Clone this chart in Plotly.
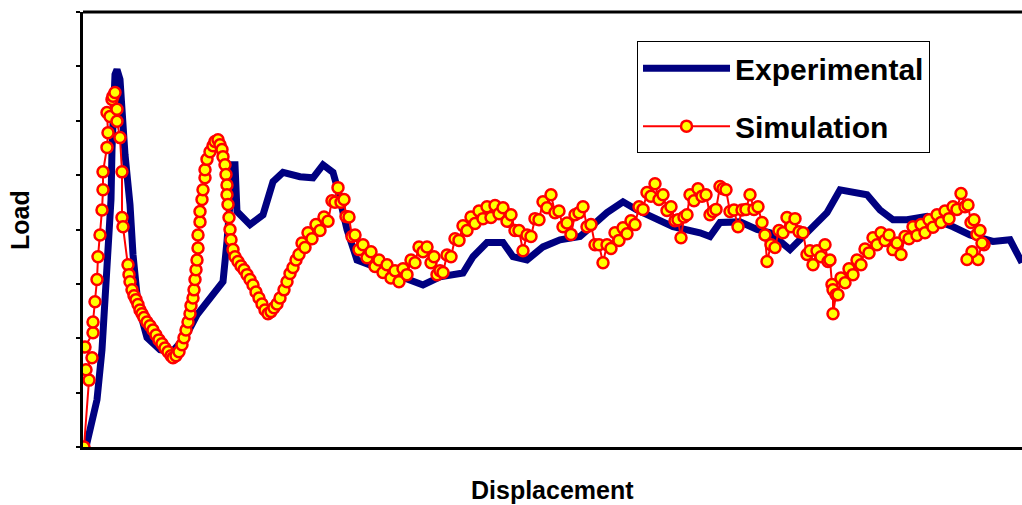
import plotly.graph_objects as go

# Experimental curve (displacement, load)
exp_disp = [0.15, 0.45, 0.7, 0.95, 1.1, 1.25, 1.4, 1.45, 1.5, 1.6, 1.7, 1.85, 2.1, 2.35, 2.5,
            2.75, 3.2, 3.85, 4.45, 5.1, 5.7, 6.5, 7.0, 7.2, 7.35, 7.5, 7.6, 7.7, 8.35, 9.0,
            9.5, 10.0, 10.85, 11.5, 12.0, 12.5, 12.7, 13.2, 13.7, 15.0, 16.35, 17.0, 17.85,
            19.0, 19.5, 20.2, 21.0, 21.5, 22.2, 23.0, 23.85, 24.85, 26.2, 27.0, 27.7, 28.7,
            29.5, 30.85, 31.35, 31.85, 32.85, 33.7, 34.35, 35.35, 36.35, 37.2, 37.85, 38.7,
            39.2, 39.85, 40.5, 41.2, 42.2, 43.5, 44.35, 45.5, 46.35, 46.95]
exp_load = [0.0, 0.50, 0.87, 1.79, 2.71, 3.63, 4.55, 5.47, 6.39, 6.85, 6.94, 6.76, 5.38, 4.46, 3.54,
            2.62, 2.01, 1.79, 1.75, 2.01, 2.43, 2.80, 3.04, 3.78, 4.46, 5.19, 5.19, 4.33, 4.09, 4.27,
            4.88, 5.05, 4.97, 4.95, 5.19, 5.05, 4.79, 4.00, 3.44, 3.26, 3.08, 2.98, 3.13,
            3.20, 3.50, 3.76, 3.76, 3.50, 3.44, 3.68, 3.81, 3.87, 4.31, 4.51, 4.36, 4.18,
            4.05, 3.94, 3.87, 4.13, 4.14, 4.00, 3.94, 3.63, 4.00, 4.31, 4.73, 4.68,
            4.64, 4.36, 4.18, 4.18, 4.24, 4.05, 3.90, 3.78, 3.81, 3.39]

# Simulation curve (displacement, load)
sim_disp = [
    0.05, 0.3, 0.15, 0.45, 0.1, 0.5, 0.5, 0.6, 0.7, 0.75, 0.85, 0.95, 1.0, 1.0, 1.2, 1.25,
    1.2, 1.35, 1.45, 1.5, 1.6, 1.7, 1.7, 1.85, 1.95, 1.95, 2.0, 2.25, 2.3, 2.35, 2.45, 2.55,
    2.65, 2.75, 2.85, 2.95, 3.05, 3.2, 3.35, 3.5, 3.65, 3.8, 3.95, 4.1, 4.25, 4.4, 4.5,
    4.65, 4.8, 4.95, 5.05, 5.15, 5.25, 5.35, 5.4, 5.5, 5.55, 5.6, 5.65, 5.7, 5.75, 5.75,
    5.85, 5.85, 5.95, 6.0, 6.1, 6.1, 6.2, 6.35, 6.5, 6.6, 6.75, 6.85, 6.95, 7.0, 7.1,
    7.15, 7.2, 7.2, 7.25, 7.3, 7.35, 7.4, 7.5, 7.6, 7.75, 7.9, 8.05, 8.2, 8.35, 8.5,
    8.65, 8.8, 8.95, 9.1, 9.25, 9.4, 9.55, 9.7, 9.85, 10.05, 10.2, 10.35, 10.5, 10.65, 10.8,
    10.95, 11.1, 11.25, 11.45, 11.65, 11.85, 12.05, 12.25, 12.45, 12.6, 12.75, 12.9, 13.05,
    13.15, 13.3, 13.45, 13.6, 13.8, 14.0, 14.2, 14.4, 14.6, 14.8, 15.0, 15.2, 15.4, 15.6,
    15.8, 16.0, 16.2, 16.4, 16.6, 16.8, 17.0, 17.2, 17.4, 17.55, 17.7, 17.85, 18.0, 18.2,
    18.4, 18.6, 18.8, 19.0, 19.2, 19.4, 19.6, 19.8, 20.0, 20.2, 20.4, 20.6, 20.8, 21.0,
    21.2, 21.4, 21.6, 21.8, 22.0, 22.2, 22.4, 22.6, 22.8, 23.0, 23.2, 23.4, 23.6, 23.8,
    24.0, 24.2, 24.4, 24.6, 24.8, 25.0, 25.2, 25.4, 25.6, 25.8, 26.0, 26.2, 26.4, 26.6,
    26.8, 27.0, 27.2, 27.4, 27.6, 27.8, 28.0, 28.2, 28.4, 28.6, 28.8, 29.0, 29.2, 29.4,
    29.6, 29.75, 29.9, 30.05, 30.2, 30.35, 30.55, 30.75, 30.95, 31.15, 31.35, 31.5, 31.65,
    31.85, 32.0, 32.15, 32.35, 32.55, 32.75, 32.95, 33.15, 33.35, 33.55, 33.75, 33.95,
    34.1, 34.2, 34.4, 34.6, 34.8, 35.0, 35.2, 35.4, 35.6, 35.8, 36.0, 36.2, 36.35, 36.5,
    36.7, 36.9, 37.1, 37.25, 37.35, 37.45, 37.5, 37.5, 37.65, 37.75, 37.9, 38.1, 38.3,
    38.5, 38.7, 38.9, 39.1, 39.3, 39.5, 39.7, 39.9, 40.1, 40.3, 40.5, 40.7, 40.9, 41.1,
    41.3, 41.5, 41.7, 41.9, 42.1, 42.3, 42.5, 42.7, 42.9, 43.1, 43.3, 43.5, 43.7, 43.9,
    44.1, 44.25, 44.4, 44.55, 44.7, 44.85, 45.05, 44.95, 44.75, 44.45, 44.2]
sim_load = [
    0.0, 1.23, 1.42, 1.64, 1.84, 2.10, 2.30, 2.67, 3.08, 3.50, 3.90, 4.36, 4.73, 5.06, 5.51, 5.78,
    6.15, 6.08, 6.39, 6.45, 6.52, 6.21, 5.99, 5.69, 5.06, 4.22, 4.05, 3.35, 3.17, 3.04, 2.89, 2.78,
    2.71, 2.62, 2.52, 2.45, 2.38, 2.30, 2.23, 2.15, 2.06, 1.97, 1.90, 1.82, 1.75, 1.68, 1.64,
    1.68, 1.75, 1.88, 2.01, 2.15, 2.30, 2.45, 2.60, 2.74, 2.89, 3.08, 3.26, 3.44, 3.66, 3.90,
    4.14, 4.33, 4.55, 4.73, 4.95, 5.10, 5.29, 5.43, 5.54, 5.62, 5.65, 5.56, 5.47, 5.34, 5.19,
    5.01, 4.82, 4.64, 4.46, 4.22, 4.00, 3.81, 3.63, 3.50, 3.41, 3.33, 3.26, 3.17, 3.08, 2.98,
    2.85, 2.74, 2.63, 2.52, 2.45, 2.49, 2.56, 2.63, 2.74, 2.89, 3.04, 3.19, 3.30, 3.44, 3.54,
    3.75, 3.67, 3.94, 3.83, 4.09, 3.98, 4.23, 4.15, 4.53, 4.50, 4.77, 4.50, 4.55,
    4.24, 4.23, 3.87, 3.90, 3.63, 3.72, 3.48, 3.59, 3.32, 3.44, 3.21, 3.35, 3.11, 3.24,
    3.04, 3.28, 3.17, 3.44, 3.39, 3.68, 3.59, 3.68, 3.39, 3.50, 3.17, 3.24, 3.21, 3.53,
    3.50, 3.83, 3.80, 4.07, 3.98, 4.23, 4.11, 4.34, 4.20, 4.42, 4.22, 4.44, 4.29, 4.40,
    4.15, 4.27, 3.98, 3.98, 3.61, 3.90, 3.87, 4.20, 4.18, 4.51, 4.40, 4.64, 4.31, 4.34,
    4.05, 4.12, 3.91, 4.27, 4.31, 4.42, 4.05, 4.09, 3.72, 3.72, 3.39, 3.72, 3.65, 3.94,
    3.80, 4.03, 3.92, 4.16, 4.09, 4.42, 4.37, 4.68, 4.61, 4.84, 4.55, 4.64, 4.35, 4.42,
    4.16, 4.18, 3.85, 4.23, 4.27, 4.64, 4.53, 4.75, 4.61, 4.64, 4.27, 4.33, 4.37,
    4.79, 4.75, 4.73, 4.33, 4.36, 4.05, 4.36, 4.37, 4.64, 4.37, 4.42, 4.13,
    3.90, 3.41, 3.72, 3.67, 3.98, 3.94, 4.22, 4.05, 4.20, 3.96, 3.94, 3.54, 3.61, 3.35,
    3.61, 3.50, 3.72, 3.41, 3.44, 2.99, 2.89, 2.45, 2.80, 2.80, 3.11, 3.02, 3.28,
    3.17, 3.44, 3.35, 3.64, 3.57, 3.85, 3.72, 3.94, 3.80, 3.90, 3.63, 3.75, 3.54, 3.87,
    3.83, 4.05, 3.89, 4.09, 3.94, 4.18, 4.04, 4.27, 4.13, 4.34, 4.20, 4.42, 4.37, 4.66,
    4.42, 4.45, 4.13, 4.18, 3.91, 3.98, 3.72, 3.75, 3.45, 3.59, 3.45]

fig = go.Figure()
fig.add_trace(go.Scatter(
    x=exp_disp, y=exp_load, mode="lines", name="Experimental",
    line=dict(color="#000080", width=7), legendgroup="e"))
fig.add_trace(go.Scatter(
    x=sim_disp, y=sim_load, mode="lines+markers", name="Simulation",
    line=dict(color="#FF0000", width=2),
    marker=dict(symbol="circle", size=11, color="#FFFF00", line=dict(color="#FF0000", width=2.5)),
    legendgroup="s"))

fig.update_layout(
    width=1022, height=505,
    margin=dict(l=83, r=0, t=12, b=58),
    paper_bgcolor="white", plot_bgcolor="white",
    showlegend=True,
    legend=dict(
        x=0.59, y=0.933, xanchor="left", yanchor="top",
        bordercolor="black", borderwidth=1, bgcolor="white",
        font=dict(family="Liberation Sans, Arial, sans-serif", size=30, color="black", weight="bold"),
        itemwidth=87, tracegroupgap=16,
    ),
    xaxis=dict(range=[0, 46.95], showgrid=False, zeroline=False, showticklabels=False,
               ticks="", showline=True, linecolor="black", linewidth=3),
    yaxis=dict(range=[0, 8], dtick=1, tick0=0, showgrid=False, zeroline=False,
               showticklabels=False, ticks="outside", ticklen=4, tickwidth=2, tickcolor="black",
               showline=True, linecolor="black", linewidth=3),
    shapes=[dict(type="line", xref="paper", yref="paper", x0=0, x1=1, y0=1, y1=1,
                 line=dict(color="black", width=3))],
    annotations=[
        dict(text="Displacement", xref="paper", yref="paper", x=0.5, y=-0.099,
             xanchor="center", yanchor="middle", showarrow=False,
             font=dict(family="Liberation Sans, Arial, sans-serif", size=25, color="black", weight="bold")),
        dict(text="Load", xref="paper", yref="paper", x=-0.067, y=0.522, textangle=-90,
             xanchor="center", yanchor="middle", showarrow=False,
             font=dict(family="Liberation Sans, Arial, sans-serif", size=25, color="black", weight="bold")),
    ],
)

fig.write_html("out.html")
